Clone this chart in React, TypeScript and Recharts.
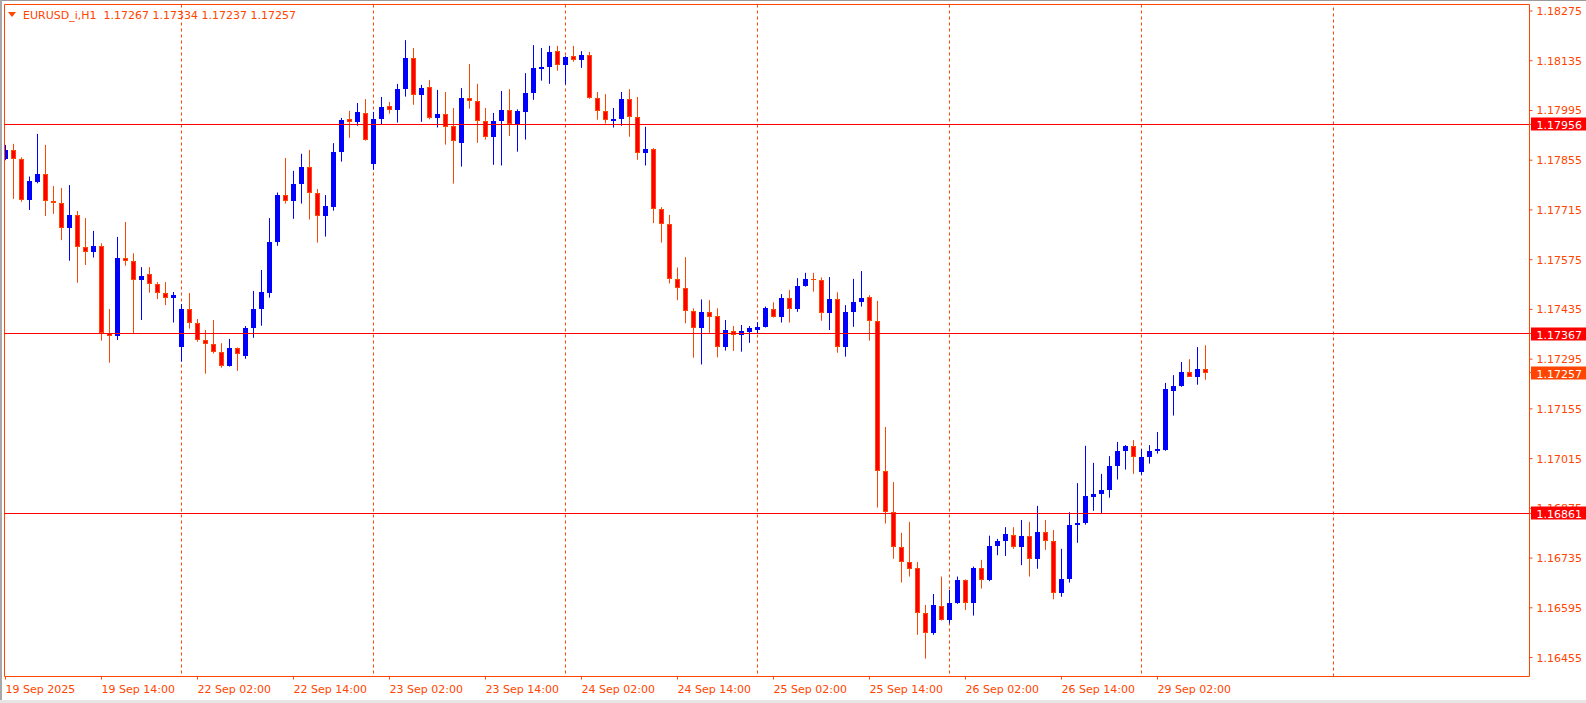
import { ComposedChart, Bar, XAxis, YAxis, ReferenceLine } from "recharts";

const FONT = "'DejaVu Sans', Tahoma, sans-serif";
const ORANGE = "#ff4500";
const BULL = "#0000ff";
const BEAR = "#ff0000";

// EURUSD H1, one entry per bar, 19 Sep 02:00 -> 29 Sep 08:00
const OPEN = [
  1.17858, 1.17884, 1.17858, 1.17743, 1.17795, 1.17816, 1.17741, 1.17734, 1.17665, 1.17701,
  1.17612, 1.17597, 1.17614, 1.17369, 1.17361, 1.1758, 1.17572, 1.17518, 1.17535, 1.17507,
  1.17482, 1.17468, 1.1733, 1.17436, 1.17398, 1.1735, 1.17338, 1.17316, 1.17276, 1.17326,
  1.17305, 1.17383, 1.17436, 1.17482, 1.17625, 1.17757, 1.17741, 1.17788, 1.17836, 1.17764,
  1.17699, 1.17724, 1.17878, 1.1797, 1.17962, 1.17989, 1.17845, 1.1797, 1.18007, 1.17997,
  1.18055, 1.18143, 1.18039, 1.1806, 1.17975, 1.17984, 1.17952, 1.17904, 1.1803, 1.18023,
  1.17965, 1.17921, 1.17965, 1.17996, 1.17956, 1.1799, 1.18044, 1.18112, 1.18116, 1.18161,
  1.18124, 1.18147, 1.18138, 1.18151, 1.18031, 1.17993, 1.17964, 1.17972, 1.18027, 1.17978,
  1.17874, 1.17887, 1.17718, 1.17675, 1.1752, 1.17494, 1.1743, 1.17384, 1.17428, 1.17417,
  1.17328, 1.17375, 1.17362, 1.1737, 1.17377, 1.17386, 1.17437, 1.17413, 1.17466, 1.17437,
  1.17501, 1.17521, 1.17519, 1.17424, 1.17464, 1.1733, 1.17428, 1.17456, 1.1747, 1.17402,
  1.16981, 1.16864, 1.16765, 1.16725, 1.16708, 1.1658, 1.16523, 1.166, 1.1656, 1.16608,
  1.16673, 1.16609, 1.16708, 1.16672, 1.1677, 1.16783, 1.168, 1.16767, 1.16797, 1.16731,
  1.16808, 1.16782, 1.16636, 1.16676, 1.16828, 1.16834, 1.16908, 1.16914, 1.16927, 1.16994,
  1.17036, 1.17051, 1.16978, 1.1702, 1.17036, 1.1704, 1.17206, 1.17219, 1.17259, 1.17245,
  1.17267,
];
const HIGH = [
  1.17898, 1.17901, 1.17863, 1.17809, 1.17929, 1.17898, 1.17782, 1.17777, 1.17785, 1.17712,
  1.17692, 1.17656, 1.17621, 1.17436, 1.17639, 1.17681, 1.17593, 1.17554, 1.17554, 1.17512,
  1.17512, 1.17484, 1.1745, 1.17481, 1.17408, 1.17377, 1.17405, 1.1734, 1.17352, 1.17328,
  1.17388, 1.17487, 1.17546, 1.17692, 1.17764, 1.17861, 1.17825, 1.17873, 1.17884, 1.17774,
  1.17757, 1.17903, 1.17974, 1.17994, 1.18016, 1.18027, 1.17991, 1.18033, 1.18019, 1.1807,
  1.18193, 1.18171, 1.18067, 1.18081, 1.18053, 1.18047, 1.18002, 1.18058, 1.18126, 1.1807,
  1.18002, 1.17988, 1.1805, 1.18055, 1.17998, 1.181, 1.18179, 1.18171, 1.18177, 1.18177,
  1.18148, 1.18177, 1.18162, 1.1816, 1.18047, 1.18041, 1.18002, 1.18047, 1.18055, 1.18033,
  1.17949, 1.17889, 1.17723, 1.17701, 1.17553, 1.17582, 1.17438, 1.17463, 1.17461, 1.17438,
  1.17405, 1.17388, 1.17391, 1.17388, 1.17399, 1.17443, 1.17455, 1.17478, 1.1749, 1.17523,
  1.17538, 1.17538, 1.17525, 1.17526, 1.17483, 1.17447, 1.17521, 1.17543, 1.17475, 1.17459,
  1.17104, 1.16949, 1.16806, 1.16837, 1.16724, 1.16603, 1.16634, 1.16683, 1.16645, 1.16683,
  1.16675, 1.16711, 1.1673, 1.16798, 1.16789, 1.16822, 1.16822, 1.16842, 1.16837, 1.16882,
  1.16842, 1.16814, 1.16761, 1.16864, 1.16946, 1.17051, 1.17003, 1.16972, 1.17022, 1.17062,
  1.17053, 1.17067, 1.17042, 1.17053, 1.1709, 1.17228, 1.1725, 1.17287, 1.17295, 1.17329,
  1.17334,
];
const LOW = [
  1.17855, 1.17746, 1.17738, 1.17715, 1.1779, 1.17698, 1.17704, 1.1763, 1.17572, 1.1751,
  1.1756, 1.17581, 1.17347, 1.17285, 1.17349, 1.17558, 1.17368, 1.17405, 1.17482, 1.17464,
  1.17447, 1.17398, 1.17288, 1.17381, 1.17344, 1.17254, 1.17311, 1.17271, 1.17274, 1.17262,
  1.17296, 1.17355, 1.17389, 1.17468, 1.17614, 1.17733, 1.1769, 1.17733, 1.17688, 1.17623,
  1.1764, 1.17713, 1.17851, 1.17918, 1.17952, 1.1791, 1.17828, 1.17956, 1.17986, 1.17961,
  1.18034, 1.18011, 1.17963, 1.1797, 1.17947, 1.17899, 1.17789, 1.17837, 1.18, 1.17904,
  1.17913, 1.17842, 1.1784, 1.17923, 1.17879, 1.17913, 1.18025, 1.18079, 1.1807, 1.18107,
  1.18068, 1.18132, 1.18115, 1.18028, 1.17969, 1.17958, 1.17947, 1.17952, 1.17921, 1.17856,
  1.1784, 1.17678, 1.17623, 1.17508, 1.17461, 1.17396, 1.17299, 1.1728, 1.17369, 1.173,
  1.17319, 1.17318, 1.17316, 1.17341, 1.17366, 1.17384, 1.17412, 1.17398, 1.17398, 1.17428,
  1.17499, 1.17485, 1.17403, 1.17377, 1.17313, 1.17302, 1.17386, 1.17443, 1.17347, 1.16877,
  1.16832, 1.16733, 1.16666, 1.16683, 1.16519, 1.16452, 1.16519, 1.16559, 1.16551, 1.16606,
  1.16589, 1.16573, 1.16649, 1.1667, 1.16743, 1.16741, 1.16761, 1.16715, 1.16683, 1.16705,
  1.16758, 1.16619, 1.16626, 1.16666, 1.16778, 1.16829, 1.16868, 1.16862, 1.16905, 1.16956,
  1.16984, 1.16972, 1.16969, 1.17001, 1.17029, 1.17037, 1.17136, 1.17217, 1.17245, 1.17223,
  1.17237,
];
const CLOSE = [
  1.17884, 1.17858, 1.17743, 1.17796, 1.17816, 1.17741, 1.17734, 1.17665, 1.17701, 1.17612,
  1.17597, 1.17614, 1.17369, 1.17361, 1.1758, 1.17572, 1.17518, 1.17528, 1.17507, 1.17482,
  1.17468, 1.17475, 1.17436, 1.17398, 1.1735, 1.17338, 1.17316, 1.17276, 1.17326, 1.17309,
  1.17383, 1.17436, 1.17484, 1.17625, 1.17757, 1.17741, 1.17788, 1.17836, 1.17764, 1.17699,
  1.17726, 1.17878, 1.17968, 1.17962, 1.17991, 1.17911, 1.17971, 1.18005, 1.17997, 1.18055,
  1.18143, 1.18039, 1.18058, 1.17975, 1.17985, 1.17949, 1.1791, 1.1803, 1.18023, 1.17965,
  1.17921, 1.17965, 1.17996, 1.17956, 1.17994, 1.18044, 1.18115, 1.18116, 1.1816, 1.18124,
  1.18146, 1.18138, 1.18151, 1.18031, 1.17993, 1.17969, 1.17972, 1.18027, 1.17978, 1.17876,
  1.17887, 1.17718, 1.17675, 1.1752, 1.17494, 1.1743, 1.17382, 1.17428, 1.17413, 1.17328,
  1.17377, 1.17362, 1.17374, 1.17383, 1.17386, 1.17439, 1.17413, 1.17466, 1.17437, 1.17501,
  1.17521, 1.17519, 1.17424, 1.17464, 1.1733, 1.17428, 1.17456, 1.17467, 1.17402, 1.16981,
  1.16864, 1.16765, 1.16725, 1.16703, 1.1658, 1.16523, 1.16603, 1.1656, 1.16608, 1.16673,
  1.16609, 1.16708, 1.16672, 1.16769, 1.16783, 1.16803, 1.16767, 1.16797, 1.16731, 1.16808,
  1.16782, 1.16636, 1.16676, 1.16828, 1.16834, 1.1691, 1.16914, 1.16927, 1.16994, 1.17036,
  1.17051, 1.1702, 1.1702, 1.17036, 1.17042, 1.17211, 1.17219, 1.17259, 1.17246, 1.17267,
  1.17257,
];

const TICK_BARS = [0, 12, 24, 36, 48, 60, 72, 84, 96, 108, 120, 132, 144];
const TICK_LABELS = [
  "19 Sep 2025", "19 Sep 14:00", "22 Sep 02:00", "22 Sep 14:00", "23 Sep 02:00",
  "23 Sep 14:00", "24 Sep 02:00", "24 Sep 14:00", "25 Sep 02:00", "25 Sep 14:00",
  "26 Sep 02:00", "26 Sep 14:00", "29 Sep 02:00",
];
// day separators; the last one lies past the final bar
const DAY_BREAKS = [22, 46, 70, 94, 118, 142];
const FUTURE_BREAKS = [166];
const PRICE_TICKS = [
  1.18275, 1.18135, 1.17995, 1.17855, 1.17715, 1.17575, 1.17435,
  1.17295, 1.17155, 1.17015, 1.16875, 1.16735, 1.16595, 1.16455,
];
const LEVELS = [1.17956, 1.17367, 1.16861];
const BID = 1.17257;

const X_DOMAIN = [-0.125, 190.5];
const Y_DOMAIN = [1.164016, 1.182933];

const data = OPEN.map((o, i) => ({
  i,
  open: o,
  high: HIGH[i],
  low: LOW[i],
  close: CLOSE[i],
  range: [LOW[i], HIGH[i]],
}));

function Candle(props: any) {
  const { x, y, width, height, payload } = props;
  const { open, close, high, low } = payload;
  const up = close >= open;
  const ratio = height / (high - low || 1);
  const px = Math.floor(x + width / 2) + 0.5;
  const top = Math.round(y + (high - Math.max(open, close)) * ratio);
  let bot = Math.round(y + (high - Math.min(open, close)) * ratio);
  if (bot - top < 1) bot = top + 1;
  const col = up ? BULL : ORANGE;
  return (
    <g>
      <line x1={px} x2={px} y1={y} y2={y + height} stroke={col} strokeWidth={1} />
      {up ? (
        <rect x={px - 2.5} y={top} width={5} height={bot - top} fill={BULL} />
      ) : bot - top < 3 ? (
        <rect x={px - 2.5} y={top} width={5} height={bot - top} fill={ORANGE} />
      ) : (
        <rect
          x={px - 2}
          y={top + 0.5}
          width={4}
          height={bot - top - 1}
          fill={BEAR}
          stroke={ORANGE}
          strokeWidth={1}
        />
      )}
    </g>
  );
}

// day separator drawn behind the candles, using the bar's own slot
function Separator(props: any) {
  const { x, y, width, height, index, payload } = props;
  const idx = payload && payload.i !== undefined ? payload.i : index;
  if (!DAY_BREAKS.includes(idx)) return <g />;
  const px = Math.floor(x + width / 2) + 0.5;
  return (
    <line
      x1={px}
      x2={px}
      y1={y}
      y2={y + height}
      stroke={ORANGE}
      strokeWidth={1}
      strokeDasharray="3 3"
    />
  );
}

function HLine(props: any) {
  const y = Math.floor(props.y1) + 0.5;
  return <line x1={props.x1} x2={props.x2} y1={y} y2={y} stroke={props.stroke} strokeWidth={1} />;
}

function VLine(props: any) {
  const x = Math.floor(props.x1) + 0.5;
  return (
    <line
      x1={x}
      x2={x}
      y1={props.y1}
      y2={props.y2}
      stroke={props.stroke}
      strokeWidth={1}
      strokeDasharray={props.strokeDasharray}
    />
  );
}

function XTick({ x, y, payload }: any) {
  const idx = TICK_BARS.indexOf(payload.value);
  return (
    <text x={x} y={y + 11} fill={ORANGE} fontSize={11} fontFamily={FONT}>
      {TICK_LABELS[idx]}
    </text>
  );
}

function YTick({ x, y, payload }: any) {
  const v = payload.value;
  const txt = v.toFixed(5);
  const special = LEVELS.includes(v) || v === BID;
  if (special) {
    const cy = Math.round(y);
    return (
      <g>
        <rect x={x - 5.5} y={cy - 6.5} width={56} height={13} fill={v === BID ? ORANGE : BEAR} />
        <text x={x} y={cy + 4.5} fill="#ffffff" fontSize={11} fontFamily={FONT}>
          {txt}
        </text>
      </g>
    );
  }
  return (
    <text x={x} y={y + 4} fill={ORANGE} fontSize={11} fontFamily={FONT}>
      {txt}
    </text>
  );
}

export default function App() {
  return (
    <div style={{ position: "absolute", left: 0, top: 0, width: 1586, height: 703, background: "#fff" }}>
      <ComposedChart
        width={1586}
        height={703}
        data={data}
        margin={{ top: 4.5, right: 0, left: 4.5, bottom: 0 }}
      >
        <XAxis
          dataKey="i"
          type="number"
          domain={X_DOMAIN}
          allowDataOverflow
          ticks={TICK_BARS}
          interval={0}
          tick={<XTick />}
          tickSize={3}
          tickMargin={2}
          height={26.5}
          axisLine={{ stroke: ORANGE }}
          tickLine={{ stroke: ORANGE }}
        />
        <YAxis
          orientation="right"
          type="number"
          domain={Y_DOMAIN}
          allowDataOverflow
          ticks={[...PRICE_TICKS, ...LEVELS, BID]}
          interval={0}
          tick={<YTick />}
          tickSize={3}
          tickMargin={4}
          width={56.5}
          axisLine={{ stroke: ORANGE }}
          tickLine={{ stroke: ORANGE }}
        />
        <ReferenceLine y={Y_DOMAIN[1]} stroke={ORANGE} shape={HLine} />
        <ReferenceLine x={X_DOMAIN[0]} stroke={ORANGE} shape={VLine} />
        {FUTURE_BREAKS.map((d) => (
          <ReferenceLine key={d} x={d} stroke={ORANGE} strokeDasharray="3 3" shape={VLine} />
        ))}
        {LEVELS.map((l) => (
          <ReferenceLine key={l} y={l} stroke={BEAR} shape={HLine} />
        ))}
        <Bar
          dataKey="range"
          barSize={5}
          background={<Separator />}
          shape={<Candle />}
          isAnimationActive={false}
        />
      </ComposedChart>
      <svg
        width={330}
        height={24}
        style={{ position: "absolute", left: 0, top: 0, pointerEvents: "none" }}
      >
        <polygon points="8,12 16,12 12,17" fill={ORANGE} />
        <text x={23} y={18.5} fill={ORANGE} fontSize={11} fontFamily={FONT} style={{ whiteSpace: "pre" }}>
          {"EURUSD_i,H1  1.17267 1.17334 1.17237 1.17257"}
        </text>
      </svg>
      <div style={{ position: "absolute", left: 0, top: 0, width: 1586, height: 1, background: "#9a9a9a" }} />
      <div style={{ position: "absolute", left: 0, top: 0, width: 2, height: 700, background: "#a8a8a8" }} />
      <div style={{ position: "absolute", left: 0, top: 700, width: 1586, height: 3, background: "#e6e6e6" }} />
    </div>
  );
}
